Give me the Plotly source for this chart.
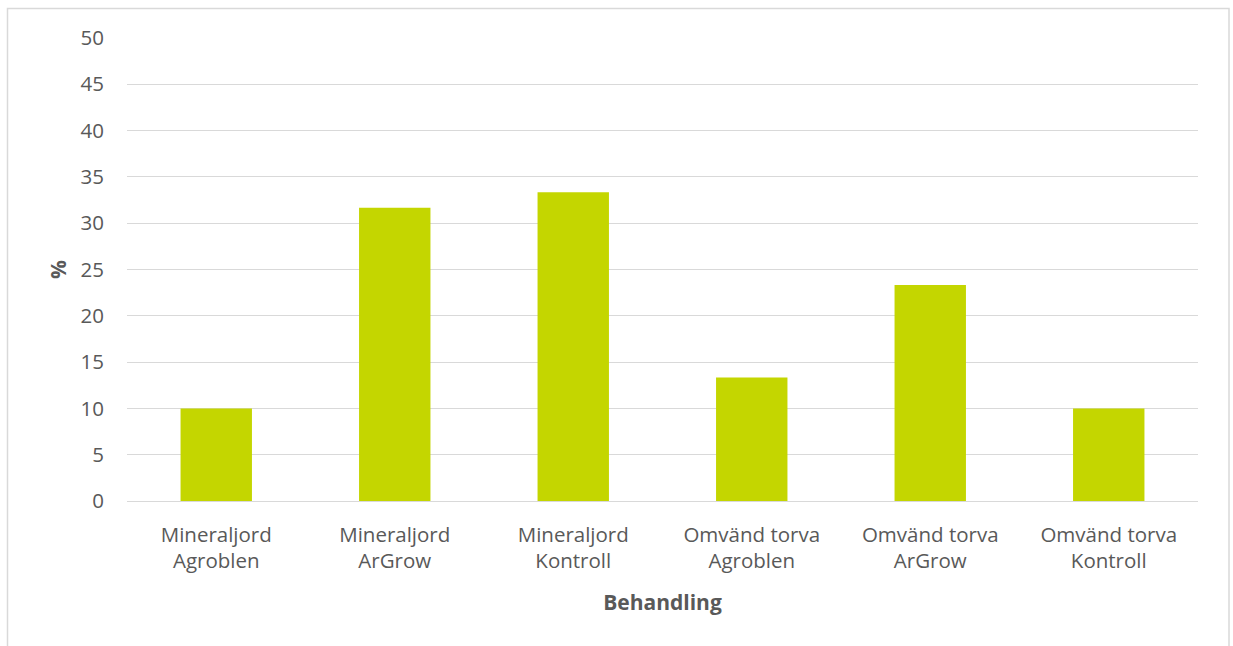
import plotly.graph_objects as go

categories = ["Mineraljord<br>Agroblen", "Mineraljord<br>ArGrow", "Mineraljord<br>Kontroll",
              "Omvänd torva<br>Agroblen", "Omvänd torva<br>ArGrow", "Omvänd torva<br>Kontroll"]
values = [10.0, 31.67, 33.33, 13.33, 23.33, 10.0]
y_ticks = [0, 5, 10, 15, 20, 25, 30, 35, 40, 45, 50]

W, H = 1233, 646
L, R, T, B = 127, 35, 38, 145

fig = go.Figure(go.Bar(x=categories, y=values, marker=dict(color="#C4D600", line=dict(width=0)),
                       hoverinfo="skip"))

pw = W - L - R
ph = H - T - B
def px2x(px):
    return (px - L) / pw
def py2y(py):
    return (H - B - py) / ph

fig.add_shape(type="rect", xref="paper", yref="paper",
              x0=px2x(7.5), x1=px2x(1229), y0=py2y(660), y1=py2y(8.5),
              line=dict(color="#d9d9d9", width=1.5), fillcolor="rgba(0,0,0,0)", layer="below")

fig.update_layout(
    width=W, height=H,
    margin=dict(l=L, r=R, t=T, b=B, pad=0),
    paper_bgcolor="white", plot_bgcolor="white",
    bargap=0.6,
    showlegend=False,
    font=dict(family="Open Sans", color="#595959", size=20),
    xaxis=dict(showgrid=False, showline=True, linecolor="#d9d9d9", linewidth=1,
               ticks="", tickfont=dict(size=20.5, color="#595959"), ticklabelstandoff=15,
               title=dict(text="<b>Behandling</b>", font=dict(size=21, color="#595959"), standoff=22)),
    yaxis=dict(range=[0, 50], tickvals=y_ticks, showgrid=True, gridcolor="#d9d9d9", gridwidth=1,
               zeroline=False, showline=False, ticks="", ticklabelstandoff=22,
               tickfont=dict(size=20.5, color="#595959"),
               title=dict(text="<b>%</b>", font=dict(size=21, color="#595959"), standoff=8)),
)

fig.write_html("out.html")
